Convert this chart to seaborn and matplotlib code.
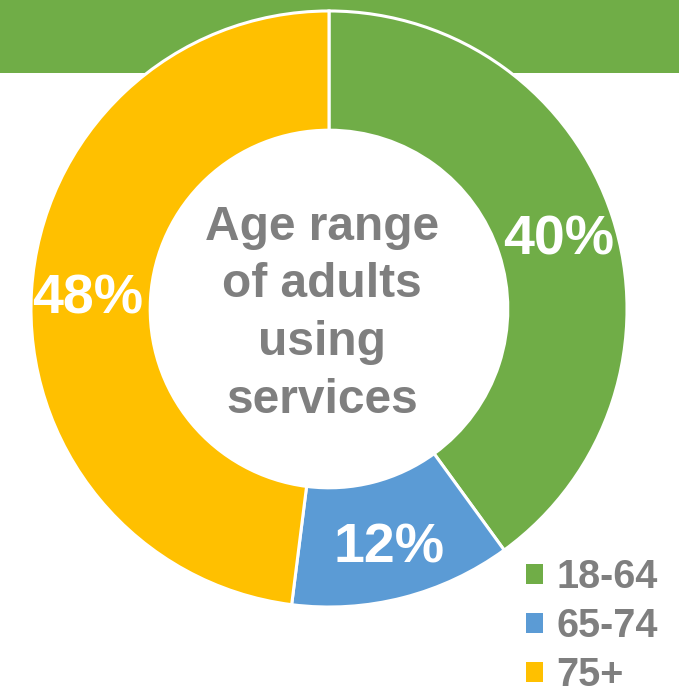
import matplotlib
matplotlib.use("Agg")
import matplotlib.pyplot as plt
import seaborn as sns
from matplotlib.patches import Rectangle

sns.set_theme(style="white")
plt.rcParams['font.family'] = ['Liberation Sans', 'DejaVu Sans']

categories = ["18-64", "65-74", "75+"]
values = [40, 12, 48]
colors = ["#70AD47", "#5B9BD5", "#FFC000"]
center_title = "Age range\nof adults\nusing\nservices"

W, H = 679, 697
fig = plt.figure(figsize=(W / 100, H / 100), dpi=100)
fig.patch.set_facecolor("white")

# green header band (drawn in a background axes)
bg = fig.add_axes([0, 0, 1, 1], zorder=0)
bg.axis("off")
bg.add_patch(Rectangle((0, 1 - 73 / H), 1, 73 / H, transform=bg.transAxes,
                       facecolor="#70AD47", edgecolor="none"))

cx, cy, R = 329, 309, 301
ax = fig.add_axes([(cx - R) / W, (H - cy - R) / H, 2 * R / W, 2 * R / H], zorder=1)
ax.set_facecolor("none")
ax.patch.set_alpha(0)

wedges, texts, autotexts = ax.pie(
    values, colors=colors, startangle=90, counterclock=False, radius=1,
    autopct="%.0f%%", pctdistance=0.81,
    wedgeprops=dict(width=0.4, edgecolor="white", linewidth=2.2),
    textprops=dict(color="white", fontsize=40, fontweight="bold"),
)
for t in autotexts:
    t.set_va("center_baseline")
ax.set_xlim(-1.01, 1.01)
ax.set_ylim(-1.01, 1.01)
ax.axis("off")

ax.text(-0.023, -0.016, center_title, ha="center", va="center", fontsize=34.5,
        fontweight="bold", color="#7F7F7F", linespacing=1.36)

leg = fig.legend(wedges, categories, loc="upper left",
                 bbox_to_anchor=(526 / W, 1 - 558 / H), frameon=False,
                 prop=dict(size=28.5, weight="bold"), labelcolor="#7F7F7F",
                 handlelength=0.42, handleheight=0.42, handletextpad=0.35,
                 labelspacing=0.28, borderpad=0, borderaxespad=0)
for h in leg.legend_handles:
    h.set_edgecolor("none")

fig.savefig("out.png", dpi=100, facecolor="white")
